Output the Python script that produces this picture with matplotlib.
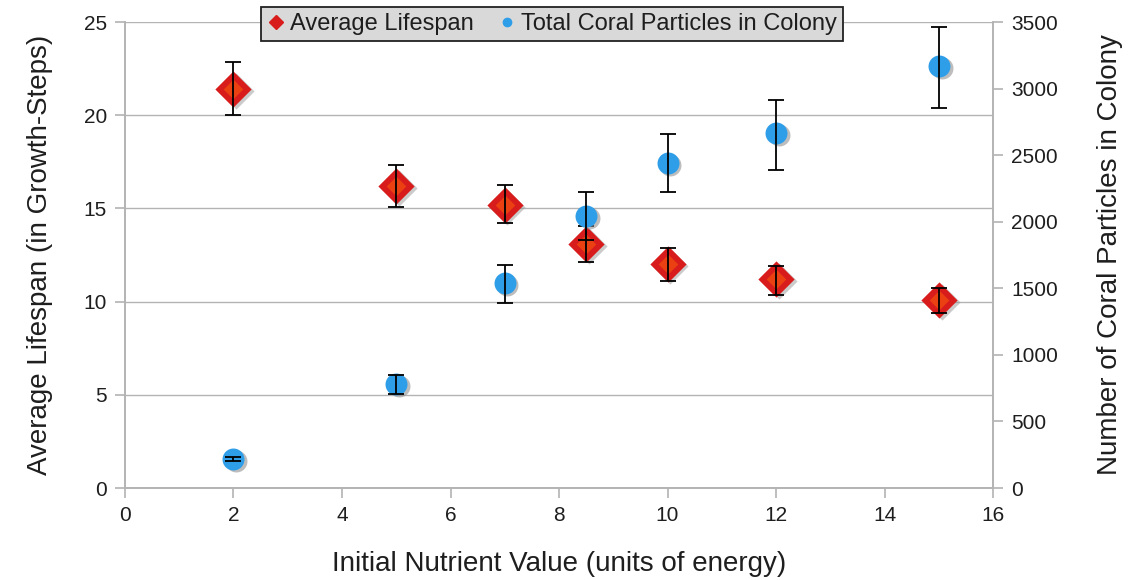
import matplotlib.pyplot as plt
import numpy as np

plt.rcParams['font.family'] = ['Liberation Sans', 'DejaVu Sans']

# nutrient values (x) shared by both series
nutrient = [2, 5, 7, 8.5, 10, 12, 15]

# average lifespan, left axis, with error bar ends
lifespan = [21.4, 16.2, 15.2, 13.1, 12.0, 11.2, 10.1]
life_lo = [20.0, 15.1, 14.2, 12.1, 11.1, 10.35, 9.4]
life_hi = [22.85, 17.35, 16.25, 14.05, 12.9, 11.9, 10.75]

# total coral particles, right axis, with error bar ends
coral = [218, 781, 1540, 2043, 2441, 2666, 3170]
coral_lo = [200, 706, 1390, 1863, 2223, 2388, 2854]
coral_hi = [236, 849, 1675, 2223, 2659, 2914, 3462]

grey = '#b3b3b3'
txt = '#1e1e1e'

fig = plt.figure(figsize=(11.3, 5.8), dpi=100)
ax = fig.add_axes([0.1106, 0.1586, 0.7682, 0.8034])
ax2 = ax.twinx()

life = np.array(lifespan)
c = np.array(coral)
life_err = [life - np.array(life_lo), np.array(life_hi) - life]
coral_err = [c - np.array(coral_lo), np.array(coral_hi) - c]

# lifespan: red diamonds with a soft shadow and lighter core
ax.scatter(np.array(nutrient) + 0.05, life - 0.1, marker='D', s=340,
           color='#999999', alpha=0.5, linewidths=0, zorder=2)
ax.scatter(nutrient, lifespan, marker='D', s=340, color='#d81b1b',
           linewidths=0, zorder=3)
ax.scatter(nutrient, lifespan, marker='D', s=100, color='#f04a10',
           alpha=0.8, linewidths=0, zorder=3)
ax.errorbar(nutrient, lifespan, yerr=life_err, fmt='none', ecolor='black',
            elinewidth=1.3, capsize=5.5, capthick=1.3, zorder=4)

# coral particles: blue circles with shadow
ax2.scatter(np.array(nutrient) + 0.05, c - 15, marker='o', s=250,
            color='#888888', alpha=0.55, linewidths=0, zorder=2)
ax2.scatter(nutrient, coral, marker='o', s=250, color='#2f9ee8',
            linewidths=0, zorder=3)
ax2.errorbar(nutrient, coral, yerr=coral_err, fmt='none', ecolor='black',
             elinewidth=1.3, capsize=5.5, capthick=1.3, zorder=4)

ax.set_xlim(0, 16)
ax.set_ylim(0, 25)
ax2.set_ylim(0, 3500)
ax.set_xticks(range(0, 17, 2))
ax.set_yticks(range(0, 26, 5))
ax2.set_yticks(range(0, 3501, 500))

ax.yaxis.grid(True, color=grey, linewidth=1)
ax.set_axisbelow(True)

for a in (ax, ax2):
    for side in ('left', 'right', 'bottom'):
        a.spines[side].set_color(grey)
        a.spines[side].set_linewidth(1.2)
    a.spines['top'].set_visible(False)
    a.tick_params(colors=grey, labelcolor=txt, labelsize=15, length=7,
                  width=1.2, pad=6)

ax.set_xlabel('Initial Nutrient Value (units of energy)', fontsize=20,
              color=txt, labelpad=19)
ax.set_ylabel('Average Lifespan (in Growth-Steps)', fontsize=20,
              color=txt, labelpad=22)
ax2.set_ylabel('Number of Coral Particles in Colony', fontsize=20,
               color=txt, labelpad=28)

h1 = plt.Line2D([], [], marker='D', color='#d81b1b', linestyle='none',
                markersize=7)
h2 = plt.Line2D([], [], marker='o', color='#2f9ee8', linestyle='none',
                markersize=6)
leg = ax2.legend([h1, h2], ['Average Lifespan', 'Total Coral Particles in Colony'],
                 loc='upper center', bbox_to_anchor=(0.492, 1.032), ncol=2,
                 fontsize=17, fancybox=False, framealpha=1,
                 facecolor='#d9d9d9', edgecolor='#222222',
                 handletextpad=0.2, columnspacing=1.0, handlelength=0.8,
                 borderpad=0.25, borderaxespad=0)
leg.get_frame().set_linewidth(1.3)
for t in leg.get_texts():
    t.set_color(txt)

fig.savefig('out.png', dpi=100)
